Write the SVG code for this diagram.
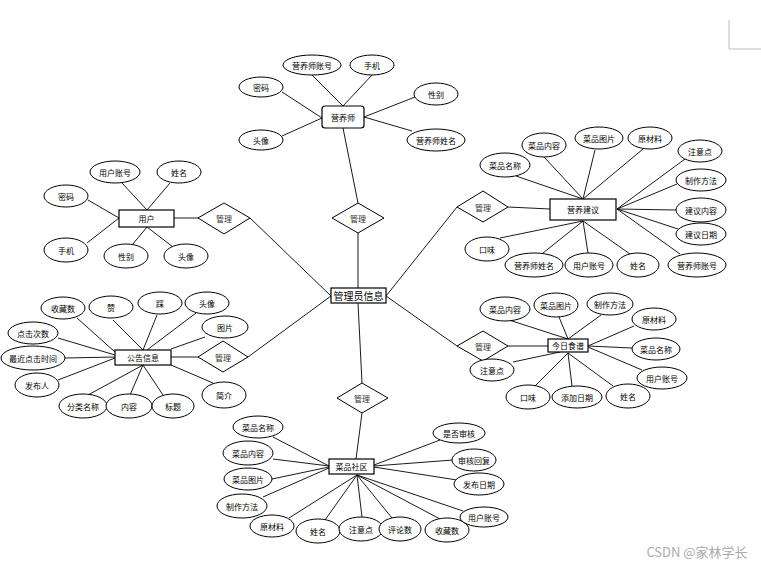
<svg xmlns="http://www.w3.org/2000/svg" width="761" height="565" viewBox="0 0 761 565">
<style>
.e{fill:#fff;stroke:#000;stroke-width:1}
.b{fill:#fff;stroke:#000;stroke-width:1.2}
.d{fill:#fff;stroke:#000;stroke-width:1}
.l{stroke:#000;stroke-width:0.9;fill:none}
text{font-family:"Noto Sans CJK SC","Liberation Sans",sans-serif;font-size:8px;fill:#000;text-anchor:middle;dominant-baseline:central}
.dt{fill:#333}
.big{font-size:10px}
</style>
<rect width="761" height="565" fill="#fff"/>
<path d="M729 20 V49 H761" stroke="#bbb" stroke-width="1" fill="none"/>
<g id="connectors" class="l">
<line x1="358" y1="233" x2="358" y2="288"/>
<line x1="343" y1="128" x2="358" y2="203"/>
<line x1="250" y1="218" x2="331" y2="296"/>
<line x1="248" y1="357" x2="331" y2="296"/>
<line x1="457" y1="207" x2="386" y2="296"/>
<line x1="457" y1="346" x2="386" y2="296"/>
<line x1="358" y1="303" x2="362" y2="383"/>
<line x1="362" y1="413" x2="356" y2="459"/>
<line x1="508" y1="207" x2="550" y2="209"/>
<line x1="508" y1="346" x2="548" y2="346"/>
<line x1="174" y1="218" x2="198" y2="218"/>
<line x1="171" y1="357" x2="198" y2="357"/>
<line x1="312" y1="75" x2="343" y2="106"/>
<line x1="372" y1="75" x2="343" y2="106"/>
<line x1="282" y1="92" x2="322" y2="118"/>
<line x1="282" y1="136" x2="322" y2="118"/>
<line x1="415" y1="97" x2="364" y2="117"/>
<line x1="412" y1="131" x2="364" y2="117"/>
<line x1="122" y1="183" x2="147" y2="210"/>
<line x1="170" y1="183" x2="147" y2="210"/>
<line x1="88" y1="200" x2="119" y2="218"/>
<line x1="87" y1="243" x2="119" y2="218"/>
<line x1="132" y1="245" x2="147" y2="227"/>
<line x1="173" y1="247" x2="147" y2="227"/>
<line x1="77" y1="318" x2="115" y2="352"/>
<line x1="113" y1="320" x2="143" y2="350"/>
<line x1="157" y1="315" x2="143" y2="350"/>
<line x1="196" y1="313" x2="147" y2="350"/>
<line x1="205" y1="337" x2="171" y2="349"/>
<line x1="58" y1="338" x2="115" y2="355"/>
<line x1="65" y1="358" x2="115" y2="357"/>
<line x1="58" y1="380" x2="115" y2="358"/>
<line x1="88" y1="395" x2="143" y2="365"/>
<line x1="130" y1="395" x2="143" y2="365"/>
<line x1="163" y1="395" x2="143" y2="365"/>
<line x1="213" y1="383" x2="171" y2="365"/>
<line x1="516" y1="176" x2="583" y2="199"/>
<line x1="544" y1="157" x2="583" y2="199"/>
<line x1="595" y1="150" x2="583" y2="199"/>
<line x1="643" y1="149" x2="583" y2="199"/>
<line x1="685" y1="159" x2="617" y2="209"/>
<line x1="677" y1="184" x2="617" y2="209"/>
<line x1="676" y1="210" x2="617" y2="209"/>
<line x1="678" y1="229" x2="617" y2="209"/>
<line x1="680" y1="254" x2="617" y2="209"/>
<line x1="500" y1="238" x2="583" y2="221"/>
<line x1="543" y1="253" x2="583" y2="221"/>
<line x1="588" y1="253" x2="583" y2="221"/>
<line x1="630" y1="254" x2="583" y2="221"/>
<line x1="509" y1="320" x2="568" y2="339"/>
<line x1="559" y1="317" x2="568" y2="339"/>
<line x1="601" y1="315" x2="568" y2="339"/>
<line x1="634" y1="326" x2="588" y2="346"/>
<line x1="632" y1="348" x2="588" y2="346"/>
<line x1="642" y1="370" x2="588" y2="347"/>
<line x1="613" y1="386" x2="568" y2="353"/>
<line x1="572" y1="386" x2="568" y2="353"/>
<line x1="535" y1="386" x2="568" y2="353"/>
<line x1="513" y1="362" x2="560" y2="352"/>
<line x1="273" y1="437" x2="329" y2="466"/>
<line x1="273" y1="459" x2="329" y2="466"/>
<line x1="272" y1="479" x2="329" y2="467"/>
<line x1="263" y1="497" x2="329" y2="468"/>
<line x1="289" y1="518" x2="357" y2="475"/>
<line x1="325" y1="520" x2="357" y2="475"/>
<line x1="362" y1="517" x2="357" y2="475"/>
<line x1="392" y1="518" x2="357" y2="475"/>
<line x1="440" y1="519" x2="357" y2="475"/>
<line x1="463" y1="511" x2="357" y2="475"/>
<line x1="457" y1="480" x2="374" y2="467"/>
<line x1="453" y1="460" x2="374" y2="466"/>
<line x1="440" y1="440" x2="374" y2="465"/>
</g>

<g id="admin"><rect class="b" x="331" y="288" width="55" height="15"/><text class="big" x="358.5" y="295.5">管理员信息</text></g>
<g id="r-top"><polygon class="d" points="358,203 384,218 358,233 332,218"/><text class="dt" x="358" y="218">管理</text></g>
<g id="r-user"><polygon class="d" points="224,203 250,218 224,234 198,218"/><text class="dt" x="224" y="218">管理</text></g>
<g id="r-notice"><polygon class="d" points="223,341 248,357 223,372 198,357"/><text class="dt" x="223" y="357">管理</text></g>
<g id="r-advice"><polygon class="d" points="483,191 508,207 483,222 457,207"/><text class="dt" x="483" y="207">管理</text></g>
<g id="r-recipe"><polygon class="d" points="483,331 508,346 483,361 457,346"/><text class="dt" x="483" y="346">管理</text></g>
<g id="r-community"><polygon class="d" points="362,383 388,398 362,413 337,398"/><text class="dt" x="362" y="398">管理</text></g>

<g id="nutritionist">
<rect class="b" x="322" y="106" width="42" height="22" rx="3"/><text x="343" y="117">营养师</text>
<ellipse class="e" cx="312" cy="65" rx="29" ry="10"/><text x="312" y="65">营养师账号</text>
<ellipse class="e" cx="372" cy="65" rx="22" ry="10"/><text x="372" y="65">手机</text>
<ellipse class="e" cx="261" cy="87" rx="22" ry="10"/><text x="261" y="87">密码</text>
<ellipse class="e" cx="436" cy="94" rx="22" ry="11"/><text x="436" y="94">性别</text>
<ellipse class="e" cx="261" cy="140" rx="22" ry="10"/><text x="261" y="140">头像</text>
<ellipse class="e" cx="436" cy="140" rx="29" ry="11"/><text x="436" y="140">营养师姓名</text>
</g>

<g id="user">
<rect class="b" x="119" y="210" width="55" height="17"/><text x="146.5" y="218.5">用户</text>
<ellipse class="e" cx="115" cy="172" rx="25" ry="11"/><text x="115" y="172">用户账号</text>
<ellipse class="e" cx="179" cy="172" rx="22" ry="11"/><text x="179" y="172">姓名</text>
<ellipse class="e" cx="66" cy="196" rx="22" ry="11"/><text x="66" y="196">密码</text>
<ellipse class="e" cx="66" cy="250" rx="22" ry="12"/><text x="66" y="250">手机</text>
<ellipse class="e" cx="126" cy="256" rx="22" ry="12"/><text x="126" y="256">性别</text>
<ellipse class="e" cx="186" cy="256" rx="22" ry="12"/><text x="186" y="256">头像</text>
</g>

<g id="notice">
<rect class="b" x="115" y="350" width="56" height="15"/><text x="143" y="357.5">公告信息</text>
<ellipse class="e" cx="63" cy="308" rx="22" ry="11"/><text x="63" y="308">收藏数</text>
<ellipse class="e" cx="111" cy="307" rx="22" ry="11"/><text x="111" y="307">赞</text>
<ellipse class="e" cx="160" cy="303" rx="22" ry="11"/><text x="160" y="303">踩</text>
<ellipse class="e" cx="207" cy="303" rx="22" ry="11"/><text x="207" y="303">头像</text>
<ellipse class="e" cx="225" cy="327" rx="23" ry="11"/><text x="225" y="327">图片</text>
<ellipse class="e" cx="33" cy="333" rx="25" ry="11"/><text x="33" y="333">点击次数</text>
<ellipse class="e" cx="33" cy="358" rx="32" ry="12"/><text x="33" y="358">最近点击时间</text>
<ellipse class="e" cx="37" cy="385" rx="22" ry="12"/><text x="37" y="385">发布人</text>
<ellipse class="e" cx="83" cy="406" rx="24" ry="12"/><text x="83" y="406">分类名称</text>
<ellipse class="e" cx="129" cy="406" rx="23" ry="12"/><text x="129" y="406">内容</text>
<ellipse class="e" cx="173" cy="406" rx="21" ry="12"/><text x="173" y="406">标题</text>
<ellipse class="e" cx="224" cy="395" rx="22" ry="13"/><text x="224" y="395">简介</text>
</g>

<g id="advice">
<rect class="b" x="550" y="199" width="66" height="21"/><text x="583" y="209.5">营养建议</text>
<ellipse class="e" cx="505" cy="165" rx="25" ry="12"/><text x="505" y="165">菜品名称</text>
<ellipse class="e" cx="544" cy="145" rx="22" ry="12"/><text x="544" y="145">菜品内容</text>
<ellipse class="e" cx="599" cy="138" rx="24" ry="11"/><text x="599" y="138">菜品图片</text>
<ellipse class="e" cx="650" cy="138" rx="22" ry="11"/><text x="650" y="138">原材料</text>
<ellipse class="e" cx="700" cy="151" rx="22" ry="11"/><text x="700" y="151">注意点</text>
<ellipse class="e" cx="701" cy="180" rx="25" ry="11"/><text x="701" y="180">制作方法</text>
<ellipse class="e" cx="701" cy="210" rx="25" ry="12"/><text x="701" y="210">建议内容</text>
<ellipse class="e" cx="701" cy="234" rx="25" ry="11"/><text x="701" y="234">建议日期</text>
<ellipse class="e" cx="697" cy="265" rx="29" ry="12"/><text x="697" y="265">营养师账号</text>
<ellipse class="e" cx="638" cy="265" rx="21" ry="12"/><text x="638" y="265">姓名</text>
<ellipse class="e" cx="589" cy="265" rx="24" ry="12"/><text x="589" y="265">用户账号</text>
<ellipse class="e" cx="534" cy="265" rx="29" ry="12"/><text x="534" y="265">营养师姓名</text>
<ellipse class="e" cx="487" cy="249" rx="22" ry="12"/><text x="487" y="249">口味</text>
</g>

<g id="recipe">
<rect class="b" x="548" y="339" width="40" height="13"/><text x="568" y="345.5">今日食谱</text>
<ellipse class="e" cx="505" cy="309" rx="25" ry="12"/><text x="505" y="309">菜品内容</text>
<ellipse class="e" cx="556" cy="305" rx="22" ry="12"/><text x="556" y="305">菜品图片</text>
<ellipse class="e" cx="610" cy="304" rx="23" ry="11"/><text x="610" y="304">制作方法</text>
<ellipse class="e" cx="654" cy="319" rx="22" ry="11"/><text x="654" y="319">原材料</text>
<ellipse class="e" cx="656" cy="349" rx="24" ry="11"/><text x="656" y="349">菜品名称</text>
<ellipse class="e" cx="662" cy="378" rx="25" ry="11"/><text x="662" y="378">用户账号</text>
<ellipse class="e" cx="628" cy="396" rx="22" ry="12"/><text x="628" y="396">姓名</text>
<ellipse class="e" cx="577" cy="397" rx="25" ry="11"/><text x="577" y="397">添加日期</text>
<ellipse class="e" cx="528" cy="397" rx="22" ry="12"/><text x="528" y="397">口味</text>
<ellipse class="e" cx="492" cy="370" rx="22" ry="11"/><text x="492" y="370">注意点</text>
</g>

<g id="community">
<rect class="b" x="329" y="459" width="45" height="15"/><text x="351.5" y="466.5">菜品社区</text>
<ellipse class="e" cx="258" cy="427" rx="25" ry="11"/><text x="258" y="427">菜品名称</text>
<ellipse class="e" cx="248" cy="453" rx="25" ry="12"/><text x="248" y="453">菜品内容</text>
<ellipse class="e" cx="248" cy="479" rx="24" ry="11"/><text x="248" y="479">菜品图片</text>
<ellipse class="e" cx="242" cy="506" rx="25" ry="12"/><text x="242" y="506">制作方法</text>
<ellipse class="e" cx="272" cy="526" rx="22" ry="11"/><text x="272" y="526">原材料</text>
<ellipse class="e" cx="318" cy="531" rx="22" ry="12"/><text x="318" y="531">姓名</text>
<ellipse class="e" cx="361" cy="529" rx="22" ry="12"/><text x="361" y="529">注意点</text>
<ellipse class="e" cx="400" cy="529" rx="21" ry="12"/><text x="400" y="529">评论数</text>
<ellipse class="e" cx="447" cy="530" rx="22" ry="12"/><text x="447" y="530">收藏数</text>
<ellipse class="e" cx="484" cy="517" rx="24" ry="10"/><text x="484" y="517">用户账号</text>
<ellipse class="e" cx="479" cy="484" rx="25" ry="11"/><text x="479" y="484">发布日期</text>
<ellipse class="e" cx="474" cy="460" rx="22" ry="11"/><text x="474" y="460">审核回复</text>
<ellipse class="e" cx="459" cy="433" rx="26" ry="10"/><text x="459" y="433">是否审核</text>
</g>

<text x="697" y="551" style="font-size:13px;fill:#aaa">CSDN @家林学长</text>
</svg>
